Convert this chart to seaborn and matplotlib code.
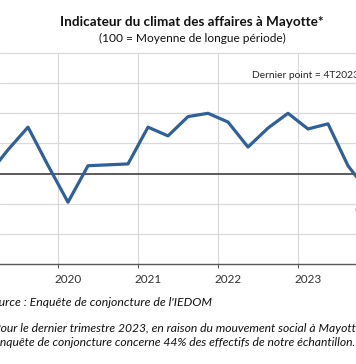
import matplotlib
matplotlib.use('Agg')
import matplotlib.pyplot as plt
import seaborn as sns

# Indicateur du climat des affaires, trimestres 2019T1 -> 2023T4
trimestres = ['1T2019', '2T2019', '3T2019', '4T2019',
              '1T2020', '2T2020', '3T2020', '4T2020',
              '1T2021', '2T2021', '3T2021', '4T2021',
              '1T2022', '2T2022', '3T2022', '4T2022',
              '1T2023', '2T2023', '3T2023', '4T2023']
ica = [99.5, 107.9, 115.4, 102.7,
       90.5, 102.6, 102.9, 103.2,
       115.4, 112.5, 118.9, 120.0,
       117.1, 108.8, 115.1, 120.0,
       114.8, 116.5, 102.6, 94.0]
annees = ['2020', '2021', '2022', '2023']
label_dernier = '92,9'

sns.set_style('white')
plt.rcParams['font.family'] = ['Lato', 'DejaVu Sans']

fig = plt.figure(figsize=(3.56, 3.64), dpi=100)
ax = fig.add_axes([0, 1 - 264 / 364, 1, (264 - 53) / 364])

idx = list(range(len(trimestres)))
sns.lineplot(x=idx, y=ica, ax=ax, color='#30609A', linewidth=2.3)

ax.set_xlim(0.6, 18.4)
ax.set_ylim(70, 140)

# grille
for v in range(80, 150, 10):
    if v != 100:
        ax.axhline(v, color='#D9D9D9', linewidth=0.9, zorder=0, clip_on=False)
ax.axhline(100, color='#404040', linewidth=1.2, zorder=1)
for b in [3.5, 7.5, 11.5, 15.5]:
    ax.axvline(b, color='#D9D9D9', linewidth=0.9, zorder=0)

ax.set_xticks([3.5, 7.5, 11.5, 15.5])
ax.set_xticklabels([])
ax.tick_params(axis='x', which='major', direction='out', length=3, color='#595959', width=0.8, bottom=True)
ax.set_xticks([4, 8, 12, 16], minor=True)
ax.set_xticklabels(annees, minor=True, fontsize=8.5, color='#333333')
ax.tick_params(axis='x', which='minor', length=0, pad=7.5)
ax.set_yticks([])
for s in ['top', 'left', 'right']:
    ax.spines[s].set_visible(False)
ax.spines['bottom'].set_color('#595959')
ax.spines['bottom'].set_linewidth(1.0)

ax.text(13.2, 132.7, 'Dernier point = 4T2023', fontsize=7.4, color='#262626',
        ha='left', va='center', clip_on=False)
ax.annotate(label_dernier, xy=(19, ica[-1]), xytext=(-2, -14), textcoords='offset points',
            ha='center', va='center', fontsize=8, color='#262626', annotation_clip=False)

fig.text(192 / 356, 1 - 22 / 364, 'Indicateur du climat des affaires à Mayotte*',
         ha='center', va='center', fontsize=9.7, fontweight='bold', color='#111111')
fig.text(192 / 356, 1 - 38 / 364, '(100 = Moyenne de longue période)',
         ha='center', va='center', fontsize=8.6, color='#111111')

x0 = -11 / 356
fig.text(-14 / 356, 1 - 302 / 364, "Source : Enquête de conjoncture de l'IEDOM",
         ha='left', va='center', fontsize=8.8, style='italic', color='#111111')
fig.text(x0, 1 - 329 / 364, '*Pour le dernier trimestre 2023, en raison du mouvement social à Mayotte,',
         ha='left', va='center', fontsize=8.7, style='italic', color='#111111')
fig.text(x0, 1 - 342 / 364, "l'enquête de conjoncture concerne 44% des effectifs de notre échantillon.",
         ha='left', va='center', fontsize=8.7, style='italic', color='#111111')

fig.savefig('out.png', dpi=100)
